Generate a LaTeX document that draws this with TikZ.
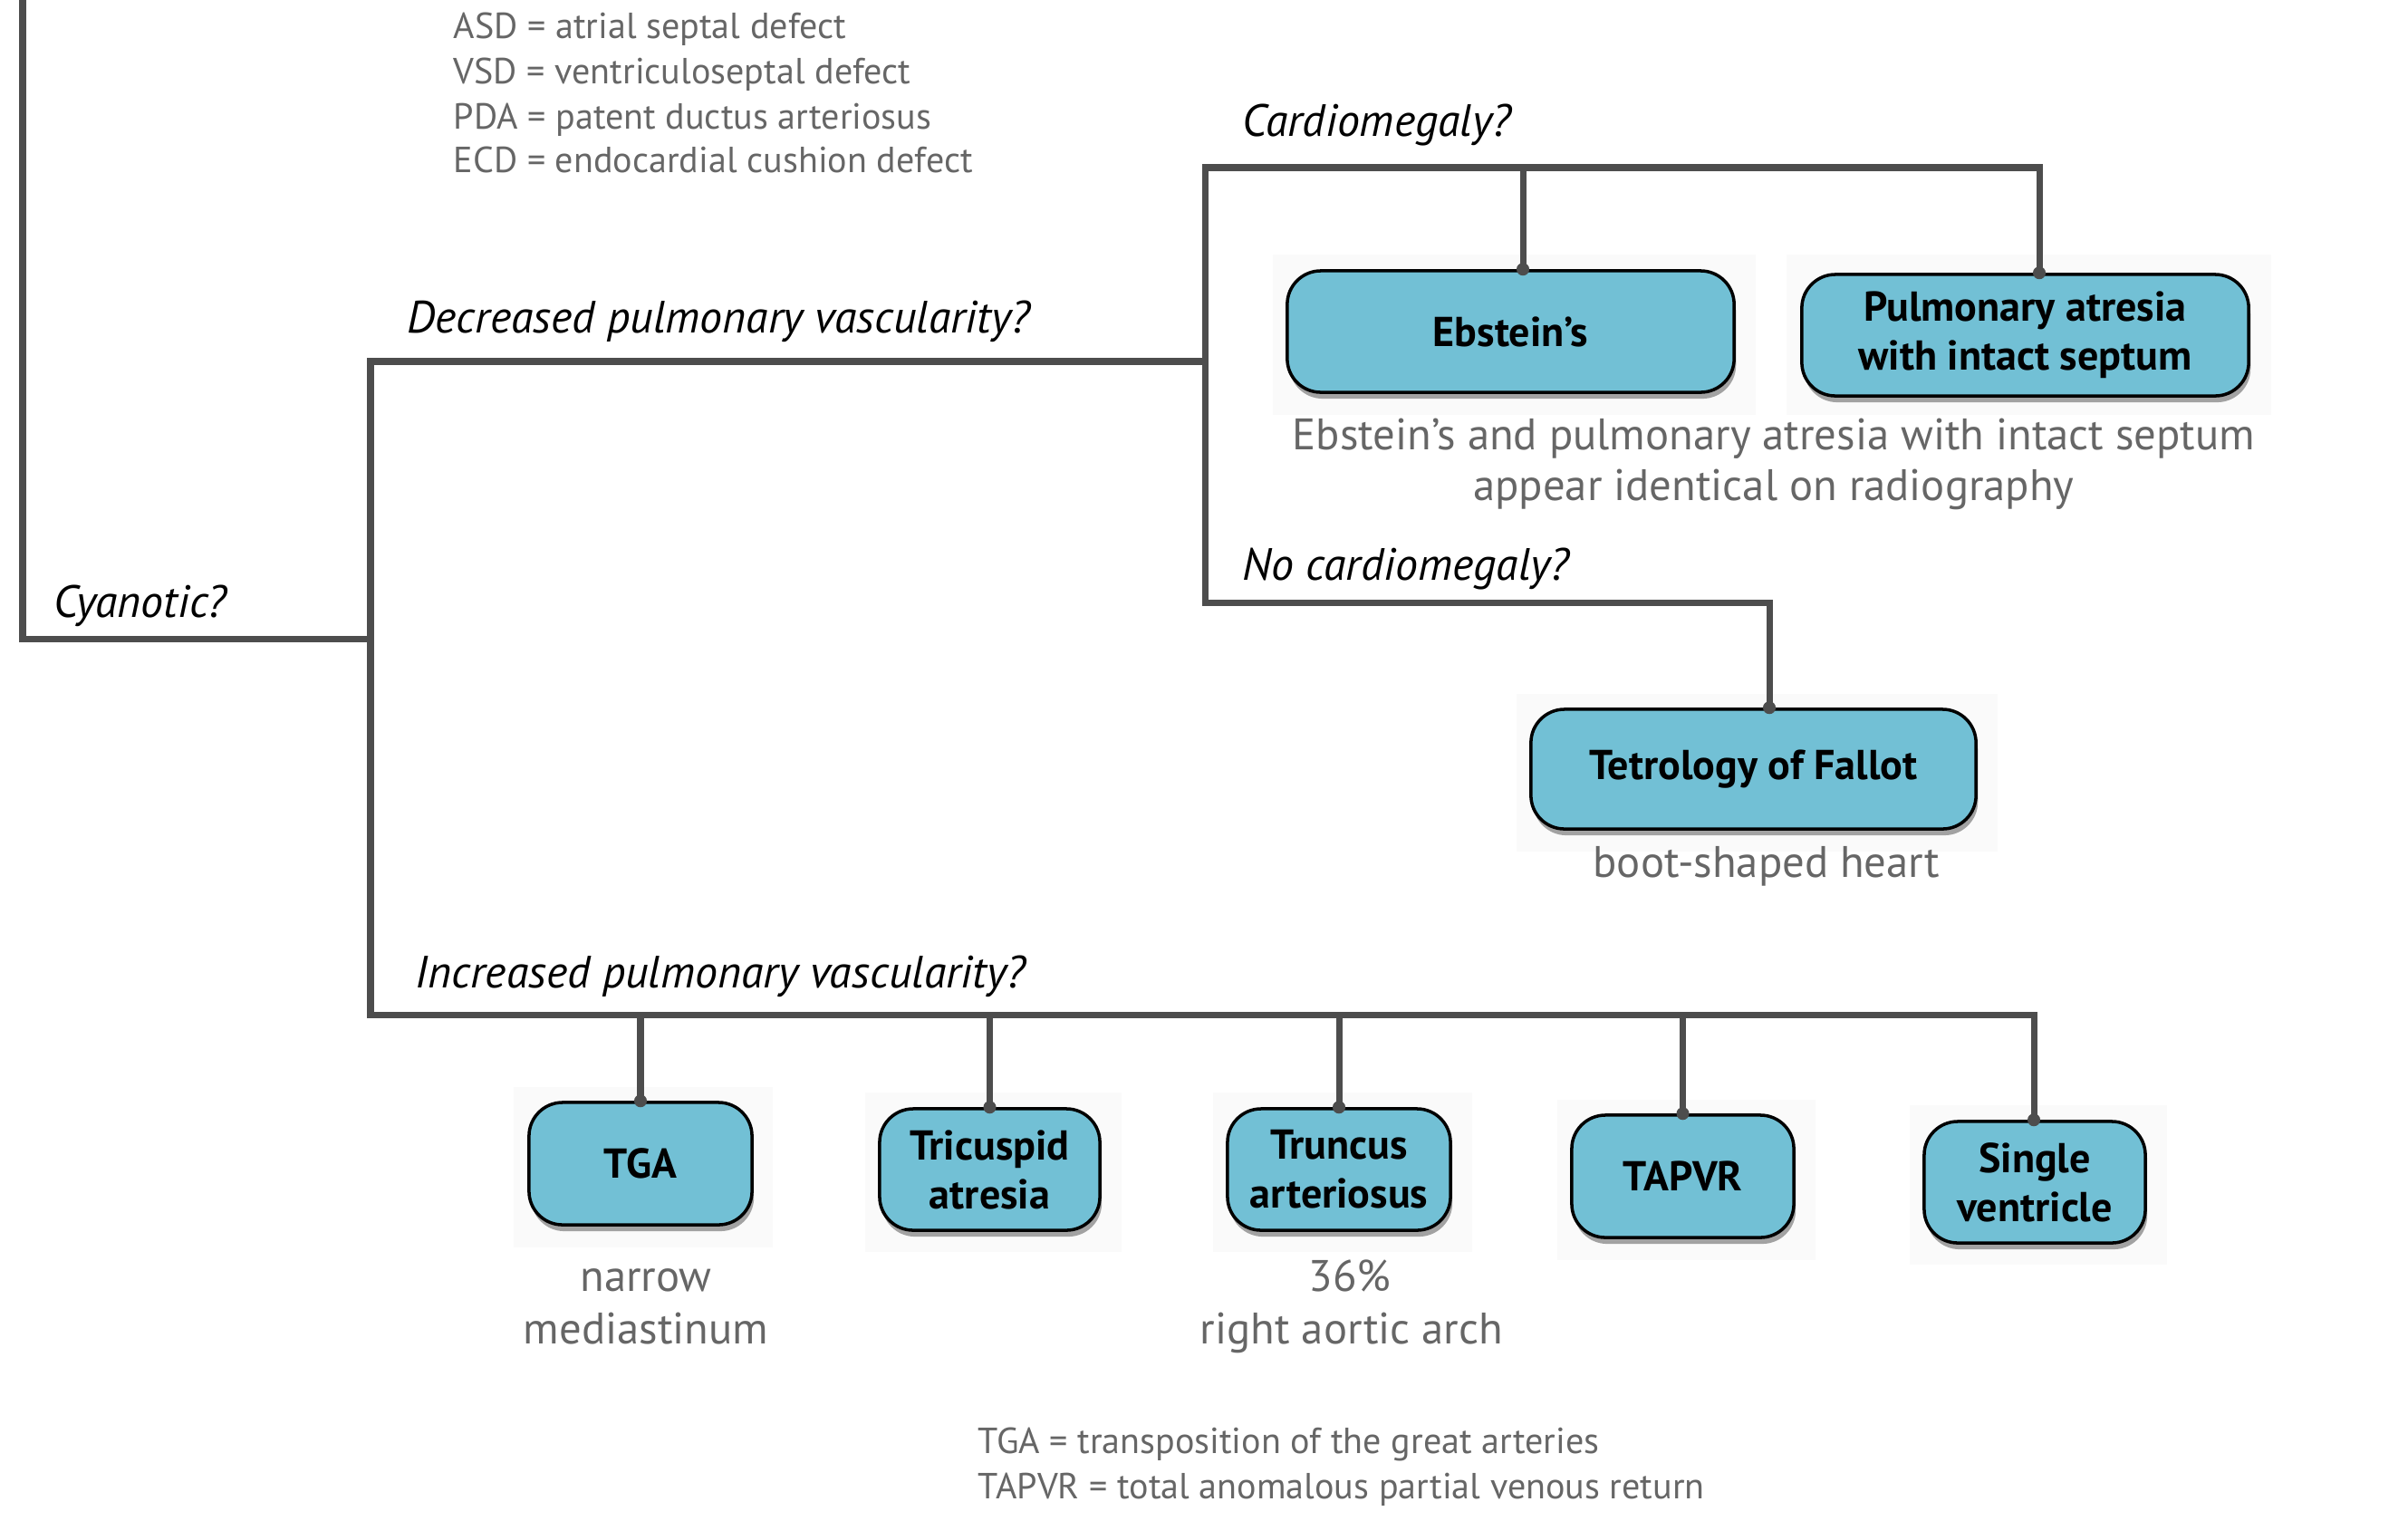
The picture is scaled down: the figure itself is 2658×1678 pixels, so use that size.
\documentclass[tikz,border=0pt]{standalone}
\usepackage{fontspec}
\setmainfont{PT Sans}
\usetikzlibrary{shadows}
\definecolor{linec}{HTML}{4D4D4D}
\definecolor{boxc}{HTML}{72C0D5}
\definecolor{notec}{HTML}{666666}
\definecolor{bgc}{HTML}{FAFAFA}
\tikzset{
  conn/.style={draw=linec, line width=2pt, line join=miter},
  dbox/.style={draw=black, line width=1pt, fill=boxc, rounded corners=0.37cm,
    minimum height=1.34cm, align=center, inner sep=0pt,
    font=\fontsize{13.1}{15.4}\selectfont\bfseries,
    drop shadow={shadow xshift=0.6pt, shadow yshift=-2pt, opacity=0.35, fill=black}},
  lab/.style={font=\fontsize{14.2}{16}\selectfont\itshape, inner sep=0pt, anchor=base west},
  note/.style={font=\fontsize{13.85}{15.4}\selectfont, text=notec, inner sep=0pt, anchor=base},
  legend/.style={font=\fontsize{11.4}{14}\selectfont, text=notec, inner sep=0pt, anchor=base west},
  dot/.style={fill=linec}
}
\begin{document}
\begin{tikzpicture}[x=0.01cm, y=-0.01cm]
\useasboundingbox (0,0) rectangle (2658,1678);
% faint backgrounds behind boxes
\foreach \xa/\ya/\xb/\yb in {1405/281/1938/458, 1972/281/2507/458, 1674/766/2205/940,
  567/1200/853/1377, 955/1206/1238/1382, 1339/1206/1625/1382, 1719/1214/2004/1391, 2108/1220/2392/1396}
  \fill[bgc] (\xa,\ya) rectangle (\xb,\yb);

% boxes
\node[dbox, minimum width=4.93cm] (ebs) at (1667.5,366) {Ebstein’s};
\node[dbox, minimum width=4.93cm] (pa) at (2235.5,370) {Pulmonary atresia\\with intact septum};
\node[dbox, minimum width=4.91cm, minimum height=1.32cm] (tof) at (1935.5,849) {Tetrology of Fallot};
\node[dbox, minimum width=2.46cm, minimum height=1.35cm] (tga) at (707,1284.5) {TGA};
\node[dbox, minimum width=2.43cm] (tri) at (1092.5,1291) {Tricuspid\\atresia};
\node[dbox, minimum width=2.46cm] (tru) at (1478,1291) {Truncus\\arteriosus};
\node[dbox, minimum width=2.45cm, minimum height=1.35cm] (tap) at (1857.5,1298.5) {TAPVR};
\node[dbox, minimum width=2.44cm] (sin) at (2246,1305) {Single\\ventricle};

% junction coordinates
\coordinate (top) at (25,-10);
\coordinate (cy) at (25,705);
\coordinate (dj) at (409,399);
\coordinate (ij) at (409,1120);
\coordinate (dr) at (1330,399);
\coordinate (ct) at (1330,185);
\coordinate (cb) at (1330,665);
\coordinate (pj) at (2251,185);
\coordinate (ej) at (1681,185);
\coordinate (tj) at (1953,665);
\coordinate (sj) at (2245,1120);

% connectors
\draw[conn] (top) -- (cy) -- (cy -| dj);
\draw[conn] (dr) -- (dj) -- (ij) -- (sj) -- (sj |- sin.north);
\draw[conn] (tj |- tof.north) -- (tj) -- (cb) -- (ct) -- (pj) -- (pj |- pa.north);
\draw[conn] (ej) -- (ej |- ebs.north);
\foreach \b in {tga, tri, tru, tap}
  \draw[conn] (\b.north |- ij) -- (\b.north);

% dots
\fill[dot] (pj |- pa.north) circle (2pt);
\fill[dot] (ej |- ebs.north) circle (2pt);
\fill[dot] (tj |- tof.north) circle (2pt);
\fill[dot] (sj |- sin.north) circle (2pt);
\foreach \b in {tga, tri, tru, tap}
  \fill[dot] (\b.north) circle (2pt);

% labels
\node[lab] (lcy) at (59,681) {Cyanotic?};
\node[lab] (ldec) at (449,367) {Decreased pulmonary vascularity?};
\node[lab] (lcar) at (1371,150) {Cardiomegaly?};
\node[lab] (lnoc) at (1371,640) {No cardiomegaly?};
\node[lab] (linc) at (458,1090) {Increased pulmonary vascularity?};

% notes
\node[note] (n1) at (1958,496) {Ebstein’s and pulmonary atresia with intact septum};
\node[note] (n2) at (1958,552) {appear identical on radiography};
\node[note] (n3) at (1950,968) {boot-shaped heart};
\node[note] (n4) at (713,1425) {narrow};
\node[note] (n5) at (713,1483) {mediastinum};
\node[note] (n6) at (1490,1425) {36\%};
\node[note] (n7) at (1492,1483) {right aortic arch};

% legends
\node[legend] (g1) at (500,42) {ASD = atrial septal defect};
\node[legend] (g2) at (500,92) {VSD = ventriculoseptal defect};
\node[legend] (g3) at (500,142) {PDA = patent ductus arteriosus};
\node[legend] (g4) at (500,190) {ECD = endocardial cushion defect};
\node[legend] (g5) at (1079,1604) {TGA = transposition of the great arteries};
\node[legend] (g6) at (1079,1654) {TAPVR = total anomalous partial venous return};
\end{tikzpicture}
\end{document}
